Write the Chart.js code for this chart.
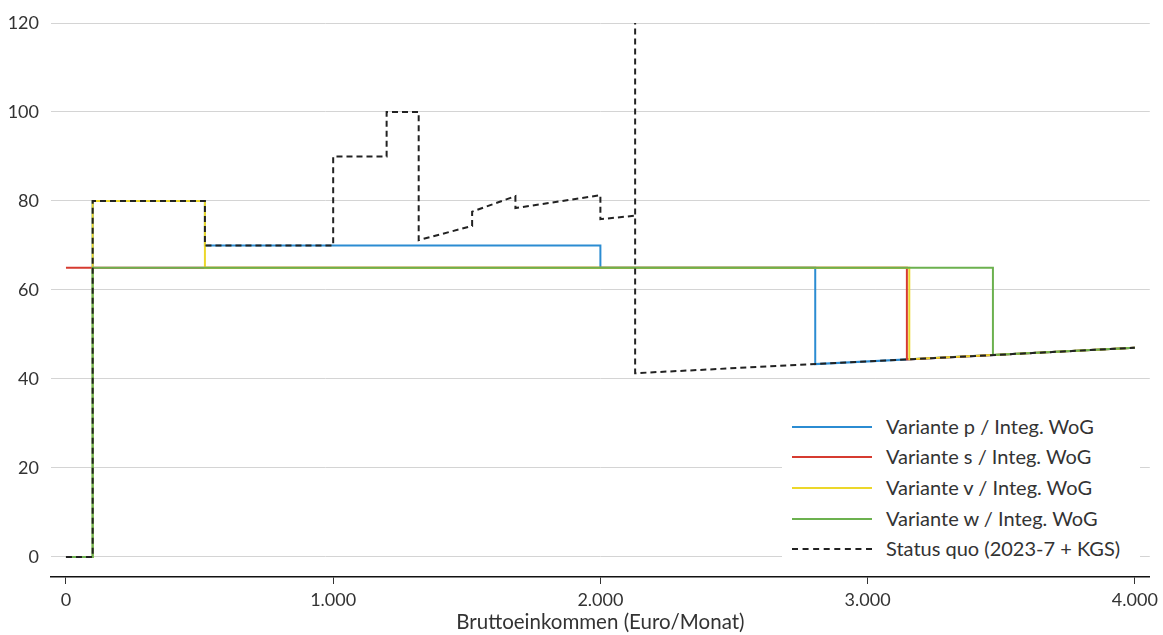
<!DOCTYPE html>
<html>
<head>
<meta charset="utf-8">
<script src="https://cdn.jsdelivr.net/npm/chart.js@4"></script>
<style>
  body { margin: 0; background: #fff; }
  .wrap { position: relative; width: 1163px; height: 635px; }
  .legend {
    position: absolute; left: 782px; top: 408px; width: 358px; height: 160px;
    background: #fff; font-family: Lato, sans-serif; font-size: 20px; color: #333;
  }
  .legend div { position: absolute; left: 0; height: 30px; line-height: 30px; white-space: nowrap; }
  .legend span.line { position: absolute; left: 10px; top: 14px; width: 80px; height: 0; border-top: 2px solid; }
  .legend span.txt { position: absolute; left: 104px; top: -1px; }
</style>
</head>
<body>
<div class="wrap">
  <canvas id="chart" width="1163" height="635"></canvas>
  <div class="legend" id="legend"></div>
</div>
<script>
// Bruttoeinkommen (Euro/Monat) -> Grenzbelastung
const pX = [0, 100, 100, 520, 520, 2000, 2000, 2804, 2804, 4000];
const pY = [0, 0, 80, 80, 70, 70, 65, 65, 43.35, 47];

const sX = [0, 3147, 3147, 4000];
const sY = [65, 65, 44.4, 47];

const vX = [0, 100, 100, 520, 520, 3156, 3156, 4000];
const vY = [0, 0, 80, 80, 65, 65, 44.45, 47];

const wX = [0, 100, 100, 3469, 3469, 4000];
const wY = [0, 0, 65, 65, 45.4, 47];

// null = break in the line before the spike at 2.130
const quoX = [0, 100, 100, 520, 520, 1000, 1000, 1200, 1200, 1320, 1320, 1520, 1520, 1682, 1682, 2000, 2000, 2130, 2130, 2130, 2130, 4000];
const quoY = [0, 0, 80, 80, 70, 70, 90, 90, 100, 100, 71.2, 74.4, 77.6, 81.1, 78.4, 81.3, 75.9, 76.7, null, 130, 41.3, 47];

const labels = ['Variante p / Integ. WoG', 'Variante s / Integ. WoG', 'Variante v / Integ. WoG', 'Variante w / Integ. WoG', 'Status quo (2023-7 + KGS)'];
const colors = ['#2b8cd2', '#d63b30', '#ecd72a', '#6cb14f', '#222222'];
const xTicks = [0, 1000, 2000, 3000, 4000];
const yTicks = [0, 20, 40, 60, 80, 100, 120];

const toPts = (xs, ys) => xs.map((x, i) => ({ x: x, y: ys[i] }));
const series = [[pX, pY], [sX, sY], [vX, vY], [wX, wY], [quoX, quoY]];
const drawOrder = [4, 3, 2, 1, 0]; // status quo on top, then w, v, s, p

const datasets = series.map((s, i) => ({
  label: labels[i],
  data: toPts(s[0], s[1]),
  borderColor: colors[i],
  borderWidth: 2,
  borderDash: i == 4 ? [6, 4] : [],
  pointRadius: 0,
  tension: 0,
  spanGaps: false,
  order: drawOrder[i]
}));

const fmt = v => String(v).replace(/\B(?=(\d{3})+(?!\d))/g, '.');
const font = { family: 'Lato', size: 18 };

new Chart(document.getElementById('chart'), {
  type: 'line',
  data: { datasets: datasets },
  options: {
    responsive: false,
    animation: false,
    devicePixelRatio: 1,
    layout: { padding: { top: 23, right: 13, left: 0, bottom: 0 } },
    plugins: { legend: { display: false }, tooltip: { enabled: false } },
    scales: {
      x: {
        type: 'linear',
        min: -56,
        max: 4056,
        afterBuildTicks: s => { s.ticks = xTicks.map(v => ({ value: v })); },
        afterFit: s => { s.height = 58; },
        grid: { drawOnChartArea: false, drawTicks: true, tickLength: 7, tickColor: '#333' },
        border: { display: true, color: '#111', width: 1.5 },
        ticks: { font: font, color: '#333', padding: 5, maxRotation: 0, callback: v => fmt(v) },
        title: { display: true, text: 'Bruttoeinkommen (Euro/Monat)', font: { family: 'Lato', size: 20.5 }, color: '#333', padding: { top: 0, bottom: 0 } }
      },
      y: {
        min: -4.5,
        max: 120,
        afterBuildTicks: s => { s.ticks = yTicks.map(v => ({ value: v })); },
        afterFit: s => { s.width = 51; },
        grid: { color: '#d4d4d4', lineWidth: 1, drawTicks: false },
        border: { display: false },
        ticks: { font: font, color: '#333', padding: 12 }
      }
    }
  }
});

// legend
const leg = document.getElementById('legend');
const rowTop = [4, 34, 65, 96, 126];
labels.forEach((t, i) => {
  const row = document.createElement('div');
  row.style.top = rowTop[i] + 'px';
  const ln = document.createElement('span');
  ln.className = 'line';
  ln.style.borderTopColor = colors[i];
  if (i == 4) ln.style.borderTopStyle = 'dashed';
  const tx = document.createElement('span');
  tx.className = 'txt';
  tx.textContent = t;
  row.appendChild(ln);
  row.appendChild(tx);
  leg.appendChild(row);
});
</script>
</body>
</html>
